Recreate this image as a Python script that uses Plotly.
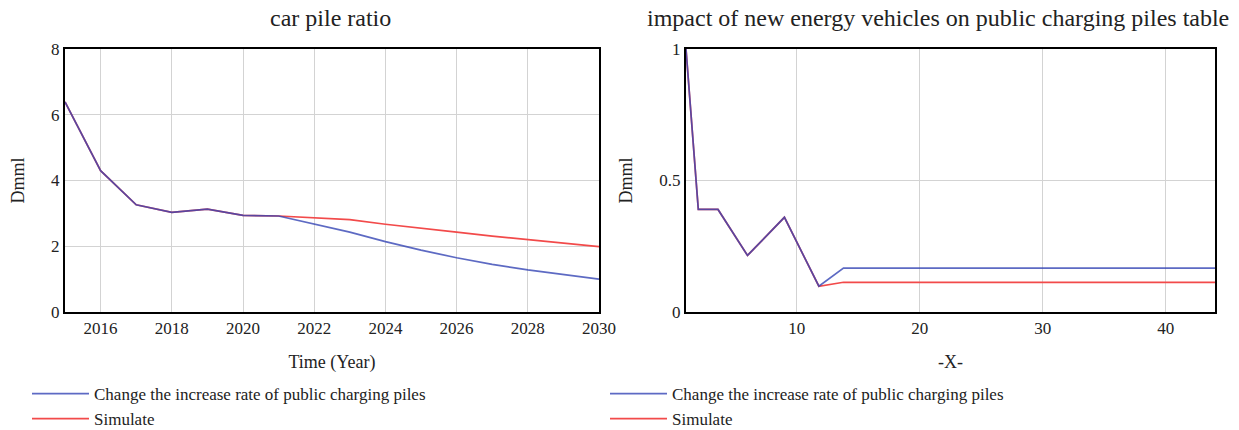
import plotly.graph_objects as go

# ---- data ----
years = list(range(2015, 2031))
ratio_change = [6.39, 4.30, 3.26, 3.03, 3.13, 2.94, 2.92, 2.67, 2.43, 2.14, 1.88, 1.65, 1.45, 1.28, 1.13, 1.00]
ratio_simulate = [6.39, 4.30, 3.26, 3.03, 3.13, 2.94, 2.92, 2.86, 2.81, 2.67, 2.54, 2.43, 2.31, 2.20, 2.10, 1.99]

table_x = [1, 2, 3.6, 6, 9, 11.8, 13.8, 44]
table_change = [1.0, 0.39, 0.39, 0.215, 0.36, 0.098, 0.167, 0.167]
table_simulate = [1.0, 0.39, 0.39, 0.215, 0.36, 0.098, 0.113, 0.113]

left_xticks = [2016, 2018, 2020, 2022, 2024, 2026, 2028, 2030]
left_yticks = [0, 2, 4, 6, 8]
right_xticks = [10, 20, 30, 40]
right_yticks = [0, 0.5, 1]
right_yticklabels = ["0", "0.5", "1"]

series_names = ["Change the increase rate of public charging piles", "Simulate"]
BLUE = "#3545B5"
RED = "#F24A4A"
FONT = "Liberation Serif"
TXT = "#222222"

W, H = 1239, 430
def px(x):
    return x / W
def py(y):
    return 1 - y / H

fig = go.Figure()

fig.add_trace(go.Scatter(x=years, y=ratio_simulate, mode="lines", name=series_names[1],
                         line=dict(color=RED, width=1.7), xaxis="x", yaxis="y",
                         legend="legend", legendrank=2))
fig.add_trace(go.Scatter(x=years, y=ratio_change, mode="lines", name=series_names[0],
                         line=dict(color=BLUE, width=1.7), opacity=0.8, xaxis="x", yaxis="y",
                         legend="legend", legendrank=1))
fig.add_trace(go.Scatter(x=table_x, y=table_simulate, mode="lines", name=series_names[1],
                         line=dict(color=RED, width=1.7), xaxis="x2", yaxis="y2",
                         legend="legend2", legendrank=2))
fig.add_trace(go.Scatter(x=table_x, y=table_change, mode="lines", name=series_names[0],
                         line=dict(color=BLUE, width=1.7), opacity=0.8, xaxis="x2", yaxis="y2",
                         legend="legend2", legendrank=1))

axis_common = dict(showline=True, mirror=True, linecolor="black", linewidth=2,
                   showgrid=True, gridcolor="#D3D3D3", gridwidth=1, zeroline=False,
                   ticks="", automargin=False,
                   tickfont=dict(family=FONT, size=17, color=TXT))

title_font = dict(family=FONT, size=18, color=TXT)
ydom = [py(312), py(49)]
legend_common = dict(orientation="v", xanchor="left", yanchor="top",
                     font=dict(family=FONT, size=17, color=TXT), itemwidth=57,
                     tracegroupgap=0, bgcolor="rgba(0,0,0,0)")

fig.update_layout(
    template="none",
    width=W, height=H,
    margin=dict(l=0, r=0, t=0, b=0, autoexpand=False),
    paper_bgcolor="white", plot_bgcolor="white",
    font=dict(family=FONT, color=TXT),
    xaxis=dict(domain=[px(65), px(599)], range=[2015, 2030], tickvals=left_xticks,
               title=dict(text="Time (Year)", font=title_font, standoff=18),
               anchor="y", **axis_common),
    yaxis=dict(domain=ydom, range=[0, 8], tickvals=left_yticks,
               title=dict(text="Dmml", font=title_font, standoff=22),
               anchor="x", **axis_common),
    xaxis2=dict(domain=[px(686), px(1215)], range=[1, 44], tickvals=right_xticks,
                title=dict(text="-X-", font=title_font, standoff=18),
                anchor="y2", **axis_common),
    yaxis2=dict(domain=ydom, range=[0, 1], tickvals=right_yticks, ticktext=right_yticklabels,
                title=dict(text="Dmml", font=title_font, standoff=22),
                anchor="x2", **axis_common),
    legend=dict(x=px(27), y=py(376), **legend_common),
    legend2=dict(x=px(605), y=py(376), **legend_common),
    showlegend=True,
    annotations=[
        dict(text="car pile ratio", x=px(330), y=py(18), xref="paper", yref="paper",
             xanchor="center", yanchor="middle",
             showarrow=False, font=dict(family=FONT, size=24, color=TXT)),
        dict(text="impact of new energy vehicles on public charging piles table",
             x=px(938), y=py(18), xref="paper", yref="paper",
             xanchor="center", yanchor="middle",
             showarrow=False, font=dict(family=FONT, size=24, color=TXT)),
    ],
)

fig.write_html("out.html", config={"displayModeBar": False},
               post_script="document.body.style.margin='0px';")
